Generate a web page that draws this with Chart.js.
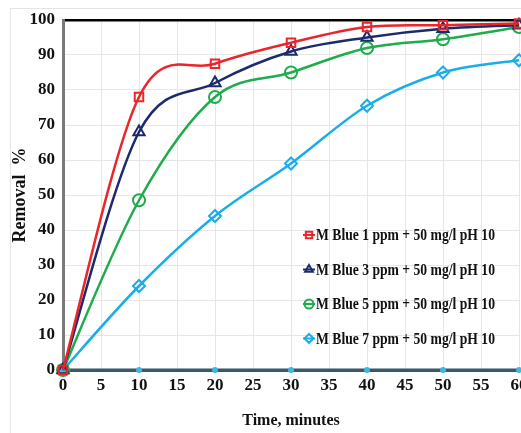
<!DOCTYPE html>
<html>
<head>
<meta charset="utf-8">
<script src="https://cdn.jsdelivr.net/npm/chart.js@4.4.1/dist/chart.umd.min.js"></script>
<style>
  html, body { margin: 0; padding: 0; background: #fff; overflow: hidden; }
  #wrap { position: relative; width: 545px; height: 433px; }
  #frame { position: absolute; left: 10px; top: 8px; width: 600px; height: 500px;
           border-left: 1px solid #e4e4e4; border-top: 1px solid #e4e4e4; }
</style>
</head>
<body>
<div id="wrap">
  <div id="frame"></div>
  <canvas id="chart" width="545" height="433"></canvas>
</div>
<script>
// Data
const times = [0, 10, 20, 30, 40, 50, 60];
const blue1ppm = [0, 78, 87.5, 93.5, 98, 98.5, 99];
const blue3ppm = [0, 68, 82, 91, 95, 97.5, 98.5];
const blue5ppm = [0, 48.5, 78, 85, 92, 94.5, 98];
const blue7ppm = [0, 24, 44, 59, 75.5, 85, 88.5];
const baseline = [0, 0, 0, 0, 0, 0, 0];
const labels = [
    'M Blue 1 ppm + 50 mg/l pH 10',
    'M Blue 3 ppm + 50 mg/l pH 10',
    'M Blue 5 ppm + 50 mg/l pH 10',
    'M Blue 7 ppm + 50 mg/l pH 10'
];
const xTicks = [0, 5, 10, 15, 20, 25, 30, 35, 40, 45, 50, 55, 60];
const yTicks = [0, 10, 20, 30, 40, 50, 60, 70, 80, 90, 100];

const serif = "'Liberation Serif', 'Times New Roman', serif";
const pts = vals => times.map((t, i) => ({ x: t, y: vals[i] }));

function series(label, vals, color, style) {
    return {
        label: label,
        data: pts(vals),
        borderColor: color,
        backgroundColor: '#ffffff',
        borderWidth: 2.5,
        pointStyle: style,
        pointRadius: style === 'triangle' ? 6.5 : 6,
        pointBorderWidth: 2,
        pointBorderColor: color,
        pointBackgroundColor: 'rgba(255,255,255,0)',
        tension: 0.4,
        clip: false,
        inLegend: true
    };
}

// Excel-like smoothing: uniform Catmull-Rom control points on the scaled points
const excelSmooth = {
    id: 'excelSmooth',
    beforeDatasetDraw(chart, args) {
        const meta = args.meta;
        const line = meta.dataset;
        if (!line || !line.options.tension) return;
        line.updateControlPoints(chart.chartArea, 'x');
        const p = meta.data;
        for (let i = 0; i < p.length; i++) {
            const prev = p[Math.max(i - 1, 0)];
            const next = p[Math.min(i + 1, p.length - 1)];
            const dx = (next.x - prev.x) / 6, dy = (next.y - prev.y) / 6;
            p[i].cp1x = p[i].x - dx; p[i].cp1y = p[i].y - dy;
            p[i].cp2x = p[i].x + dx; p[i].cp2y = p[i].y + dy;
        }
        line._pointsUpdated = true;
        line._path = undefined;
    }
};

// Legend drawn inside the plot, lower right
const insideLegend = {
    id: 'insideLegend',
    afterDraw(chart) {
        const ctx = chart.ctx;
        const x0 = 309, y0 = 235, gap = 34.5;
        ctx.save();
        ctx.font = 'bold 17px ' + serif;
        ctx.textBaseline = 'middle';
        chart.data.datasets.forEach((ds, i) => {
            if (!ds.inLegend) return;
            const y = y0 + i * gap;
            ctx.strokeStyle = ds.borderColor;
            ctx.lineWidth = 2;
            ctx.beginPath();
            ctx.moveTo(x0 - 6, y);
            ctx.lineTo(x0 + 6, y);
            ctx.stroke();
            ctx.fillStyle = 'rgba(255,255,255,0)';
            Chart.helpers.drawPoint(ctx, { pointStyle: ds.pointStyle, radius: 4.5, borderWidth: 2, rotation: 0 }, x0, y);
            const w = ctx.measureText(ds.label).width;
            ctx.save();
            ctx.translate(316, y + 1);
            ctx.scale(179 / w, 1);
            ctx.fillStyle = '#111';
            ctx.fillText(ds.label, 0, 0);
            ctx.restore();
        });
        ctx.restore();
    }
};

const datasets = [
    series(labels[0], blue1ppm, '#e8262b', 'rect'),
    series(labels[1], blue3ppm, '#1c2a6e', 'triangle'),
    series(labels[2], blue5ppm, '#1eac4c', 'circle'),
    series(labels[3], blue7ppm, '#1badea', 'rectRot'),
    {
        label: 'baseline',
        data: pts(baseline),
        borderColor: '#36596b',
        borderWidth: 3,
        pointRadius: 1.5,
        pointBackgroundColor: '#3cb8e0',
        pointBorderColor: '#3cb8e0',
        tension: 0,
        clip: false
    }
];

const ctx = document.getElementById('chart').getContext('2d');
const chart = new Chart(ctx, {
    type: 'line',
    data: { datasets: datasets },
    plugins: [excelSmooth, insideLegend],
    options: {
        responsive: false,
        animation: false,
        events: [],
        layout: { padding: { left: 8, top: 20, right: 26, bottom: 0 } },
        plugins: {
            legend: { display: false },
            tooltip: { enabled: false }
        },
        scales: {
            x: {
                type: 'linear',
                min: 0,
                max: 60,
                afterBuildTicks: s => { s.ticks = xTicks.map(v => ({ value: v })); },
                afterFit: s => { s.height = 63; },
                ticks: {
                    padding: 5,
                    color: '#111',
                    font: { family: serif, size: 17, weight: 'bold' }
                },
                grid: { color: '#e6e6e6', lineWidth: 1, drawTicks: false },
                border: { color: '#36596b', width: 3 },
                title: {
                    display: true,
                    text: 'Time, minutes',
                    color: '#111',
                    font: { family: serif, size: 16, weight: 'bold' },
                    padding: { top: 0, bottom: 3 }
                }
            },
            y: {
                min: 0,
                max: 100,
                afterBuildTicks: s => { s.ticks = yTicks.map(v => ({ value: v })); },
                afterFit: s => { s.width = 55; },
                ticks: {
                    padding: 8,
                    color: '#111',
                    font: { family: serif, size: 17, weight: 'bold' }
                },
                grid: {
                    color: c => c.tick && c.tick.value === 100 ? '#000' : '#e6e6e6',
                    lineWidth: c => c.tick && c.tick.value === 100 ? 2.5 : 1,
                    drawTicks: false
                },
                border: { color: '#7a7a7a', width: 3 },
                title: {
                    display: true,
                    text: 'Removal  %',
                    color: '#111',
                    font: { family: serif, size: 18, weight: 'bold' },
                    padding: { top: 2, bottom: 4 }
                }
            }
        }
    }
});
</script>
</body>
</html>
